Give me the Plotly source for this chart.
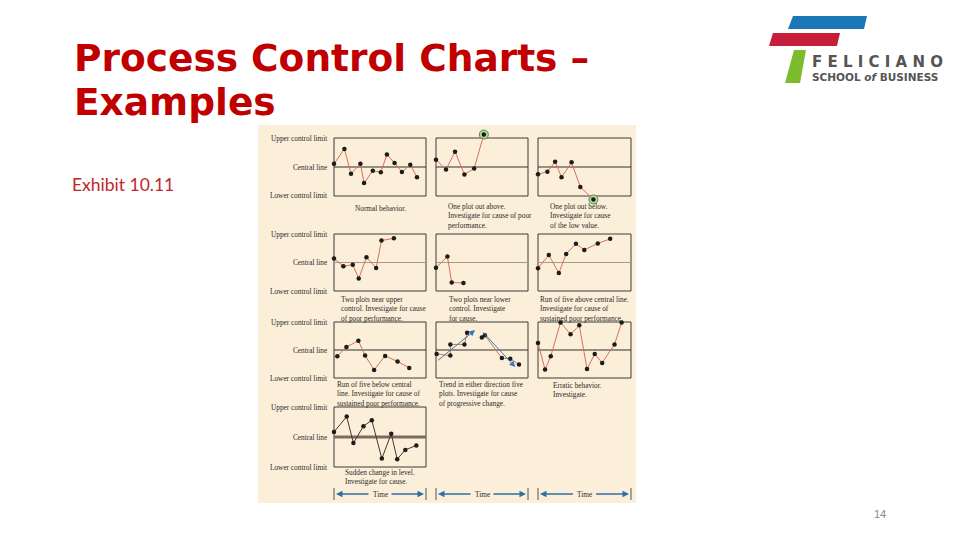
import plotly.graph_objects as go

W, H = 960, 540

# ---------------- data (x = position in time window, y relative: UCL=1, CL=0, LCL=-1)
normal_x = [0, 0.113, 0.185, 0.287, 0.327, 0.422, 0.509, 0.575, 0.658, 0.738, 0.829, 0.902]
normal_y = [0.11, 0.62, -0.23, 0.11, -0.55, -0.13, -0.18, 0.43, 0.14, -0.17, 0.08, -0.35]
above_x = [0, 0.109, 0.207, 0.309, 0.415, 0.52]
above_y = [0.25, -0.09, 0.53, -0.26, -0.05, 1.12]
below_x = [0, 0.101, 0.184, 0.253, 0.361, 0.455, 0.596]
below_y = [-0.25, -0.16, 0.18, -0.35, 0.16, -0.69, -1.12]
nearupper_x = [0, 0.102, 0.204, 0.269, 0.353, 0.458, 0.516, 0.651]
nearupper_y = [0.14, -0.13, -0.08, -0.56, 0.18, -0.19, 0.77, 0.85]
nearlower_x = [0, 0.124, 0.171, 0.298]
nearlower_y = [-0.18, 0.21, -0.70, -0.72]
runabove_x = [0, 0.116, 0.224, 0.303, 0.408, 0.498, 0.643, 0.776]
runabove_y = [-0.20, 0.26, -0.37, 0.30, 0.66, 0.44, 0.67, 0.83]
runbelow_x = [0.036, 0.135, 0.265, 0.338, 0.436, 0.556, 0.691, 0.818]
runbelow_y = [-0.22, 0.11, 0.33, -0.20, -0.71, -0.21, -0.41, -0.64]
trendup_x = [0.007, 0.156, 0.156, 0.309, 0.338]
trendup_y = [-0.14, -0.20, 0.20, 0.20, 0.62]
trenddown_x = [0.498, 0.531, 0.716, 0.807, 0.902]
trenddown_y = [0.45, 0.53, -0.29, -0.31, -0.52]
trend_arrows = [((0.007, -0.41), (0.425, 0.71)), ((0.498, 0.68), (0.862, -0.61))]
erratic_x = [0, 0.076, 0.137, 0.242, 0.350, 0.444, 0.527, 0.610, 0.690, 0.823, 0.899]
erratic_y = [0.25, -0.70, -0.22, 0.98, 0.56, 0.88, -0.68, -0.14, -0.46, 0.20, 0.98]
sudden_x = [0, 0.138, 0.211, 0.320, 0.411, 0.520, 0.622, 0.687, 0.775, 0.895]
sudden_y = [0.17, 0.68, -0.20, 0.36, 0.56, -0.72, 0.11, -0.74, -0.43, -0.28]

row_labels = ["Upper control limit", "Central line", "Lower control limit"]
captions = [
    "Normal behavior.",
    "One plot out above.<br>Investigate for cause of poor<br>performance.",
    "One plot out below.<br>Investigate for cause<br>of the low value.",
    "Two plots near upper<br>control. Investigate for cause<br>of poor performance.",
    "Two plots near lower<br>control. Investigate<br>for cause.",
    "Run of five above central line.<br>Investigate for cause of<br>sustained poor performance.",
    "Run of five below central<br>line. Investigate for cause of<br>sustained poor performance.",
    "Trend in either direction five<br>plots. Investigate for cause<br>of progressive change.",
    "Erratic behavior.<br>Investigate.",
    "Sudden change in level.<br>Investigate for cause.",
]
time_label = "Time"

# ---------------- layout geometry (pixels)
cols = [(334, 426), (436, 528), (538, 631)]
rows = [(138, 196), (234, 291), (322, 378), (407, 467)]
XPAD, YPAD = 0.06, 0.35  # extra axis room around the control box (in data units)


def px(x):
    return x / W


def py(y):
    return 1 - y / H


RED_LINE = "#d7705c"
DOT = "#1c1c1c"
BOX = "#3a3a3a"
SERIF = "Liberation Serif"

panels = [
    (0, 0, [(normal_x, normal_y)], RED_LINE, ("#2e2e2e", 1.2), None),
    (0, 1, [(above_x, above_y)], RED_LINE, ("#2e2e2e", 1.2), -1),
    (0, 2, [(below_x, below_y)], RED_LINE, ("#2e2e2e", 1.2), -1),
    (1, 0, [(nearupper_x, nearupper_y)], RED_LINE, ("#a89886", 1.0), None),
    (1, 1, [(nearlower_x, nearlower_y)], RED_LINE, ("#a89886", 1.0), None),
    (1, 2, [(runabove_x, runabove_y)], RED_LINE, ("#a89886", 1.0), None),
    (2, 0, [(runbelow_x, runbelow_y)], RED_LINE, ("#2e2e2e", 1.2), None),
    (2, 1, [(trendup_x, trendup_y), (trenddown_x, trenddown_y)], RED_LINE, ("#2e2e2e", 1.2), None),
    (2, 2, [(erratic_x, erratic_y)], RED_LINE, ("#2e2e2e", 1.2), None),
    (3, 0, [(sudden_x, sudden_y)], "#4a3530", ("#7d6a5e", 3), None),
]
caption_pos = [
    ("center", 380, 208), ("left", 446, 216), ("left", 548, 216),
    ("left", 339, 309), ("left", 447, 309), ("left", 538, 309),
    ("left", 335, 394), ("left", 437, 394), ("left", 551, 390),
    ("left", 343, 477),
]

fig = go.Figure()
layout = dict(
    width=W, height=H, margin=dict(l=0, r=0, t=0, b=0),
    paper_bgcolor="white", plot_bgcolor="rgba(0,0,0,0)",
    showlegend=False,
)
shapes = []
annotations = []

shapes.append(dict(type="rect", xref="paper", yref="paper", layer="below",
                   x0=px(258), x1=px(636), y0=py(503), y1=py(125),
                   fillcolor="#fcefd9", line=dict(width=0)))

for i, (r, c, series, lc, (clc, clw), flag) in enumerate(panels):
    k = i + 1
    xa = "xaxis" if k == 1 else f"xaxis{k}"
    ya = "yaxis" if k == 1 else f"yaxis{k}"
    xid = "x" if k == 1 else f"x{k}"
    yid = "y" if k == 1 else f"y{k}"
    x0, x1 = cols[c]
    y0, y1 = rows[r]
    wpx = x1 - x0
    hpx = y1 - y0
    dx0 = x0 - XPAD * wpx
    dx1 = x1 + XPAD * wpx
    dy0 = y0 - YPAD / 2 * hpx
    dy1 = y1 + YPAD / 2 * hpx
    common = dict(showgrid=False, zeroline=False, showticklabels=False, ticks="",
                  showline=False, fixedrange=True)
    layout[xa] = dict(domain=[px(dx0), px(dx1)], range=[-XPAD, 1 + XPAD], anchor=yid, **common)
    layout[ya] = dict(domain=[py(dy1), py(dy0)], range=[-1 - YPAD, 1 + YPAD], anchor=xid, **common)
    shapes.append(dict(type="rect", xref=xid, yref=yid, x0=0, x1=1, y0=-1, y1=1,
                       line=dict(color=BOX, width=1), fillcolor="rgba(0,0,0,0)", layer="below"))
    shapes.append(dict(type="line", xref=xid, yref=yid, x0=0, x1=1, y0=0, y1=0,
                       line=dict(color=clc, width=clw), layer="below"))
    for sx, sy in series:
        if flag is not None:
            fig.add_trace(go.Scatter(x=[sx[flag]], y=[sy[flag]], xaxis=xid, yaxis=yid,
                                     mode="markers", hoverinfo="skip",
                                     marker=dict(size=9, color="#b9dca4",
                                                 line=dict(color="#4a8a4a", width=1))))
        fig.add_trace(go.Scatter(x=sx, y=sy, xaxis=xid, yaxis=yid, mode="lines+markers",
                                 line=dict(color=lc, width=1),
                                 marker=dict(size=4.5, color=DOT)))
    if i == 7:
        for (tx, ty), (hx, hy) in trend_arrows:
            annotations.append(dict(x=hx, y=hy, ax=tx, ay=ty, xref=xid, yref=yid,
                                    axref=xid, ayref=yid, text="", showarrow=True,
                                    arrowhead=2, arrowsize=1.2, arrowwidth=1,
                                    arrowcolor="#2f7cc0"))
    al, cx, cy = caption_pos[i]
    annotations.append(dict(x=px(cx), y=py(cy), xref="paper", yref="paper",
                            text=captions[i], showarrow=False, align=al,
                            xanchor="center" if al == "center" else "left", yanchor="middle",
                            font=dict(family=SERIF, size=7.3, color="#2a2a2a")))

for (y0, y1) in rows:
    for lab, yy in zip(row_labels, [y0, (y0 + y1) / 2, y1]):
        annotations.append(dict(x=px(329), y=py(yy), xref="paper", yref="paper",
                                text=lab, showarrow=False, xanchor="right", yanchor="middle",
                                font=dict(family=SERIF, size=7.3, color="#2a2a2a")))

for (x0, x1) in cols:
    ty = 494
    mid = (x0 + x1) / 2
    for xb in (x0, x1):
        shapes.append(dict(type="line", xref="paper", yref="paper", x0=px(xb), x1=px(xb),
                           y0=py(488), y1=py(500), line=dict(color="#555", width=1)))
    annotations.append(dict(x=px(mid), y=py(ty), xref="paper", yref="paper", text=time_label,
                            showarrow=False, xanchor="center", yanchor="middle",
                            font=dict(family=SERIF, size=7.3, color="#2a2a2a")))
    annotations.append(dict(x=px(x0 + 2), y=py(ty), xref="paper", yref="paper", text="",
                            showarrow=True, ax=(mid - 10) - (x0 + 2), ay=0, arrowhead=2,
                            arrowsize=1, arrowwidth=1.3, arrowcolor="#2f6fa8"))
    annotations.append(dict(x=px(x1 - 2), y=py(ty), xref="paper", yref="paper", text="",
                            showarrow=True, ax=(mid + 10) - (x1 - 2), ay=0, arrowhead=2,
                            arrowsize=1, arrowwidth=1.3, arrowcolor="#2f6fa8"))

TITLE_FONT = dict(family="DejaVu Sans", size=37.5, color="#c00000")
annotations.append(dict(x=px(72), y=py(58), xref="paper", yref="paper",
                        text="<b>Process Control Charts –</b>", showarrow=False,
                        xanchor="left", yanchor="middle", font=TITLE_FONT))
annotations.append(dict(x=px(72), y=py(102), xref="paper", yref="paper",
                        text="<b>Examples</b>", showarrow=False,
                        xanchor="left", yanchor="middle", font=TITLE_FONT))
annotations.append(dict(x=px(70), y=py(184), xref="paper", yref="paper",
                        text="Exhibit 10.11", showarrow=False, xanchor="left", yanchor="middle",
                        font=dict(family="Lato", size=17.5, color="#c0262c")))
annotations.append(dict(x=px(880), y=py(514), xref="paper", yref="paper",
                        text="14", showarrow=False, xanchor="center", yanchor="middle",
                        font=dict(family="Liberation Sans", size=11, color="#8a8a8a")))


def poly(pts, color):
    d = "M " + " L ".join(f"{px(x):.5f},{py(y):.5f}" for x, y in pts) + " Z"
    return dict(type="path", xref="paper", yref="paper", path=d, fillcolor=color,
                line=dict(width=0))


shapes.append(poly([(793, 16), (867, 16), (864, 29), (788, 29)], "#1b78b8"))
shapes.append(poly([(773, 33), (840, 33), (837, 46), (769, 46)], "#c41e3a"))
shapes.append(poly([(794, 50), (806, 50), (800, 83), (785, 83)], "#7cbb2c"))
annotations.append(dict(x=px(810), y=py(62), xref="paper", yref="paper",
                        text="<b>F E L I C I A N O</b>", showarrow=False, xanchor="left",
                        yanchor="middle",
                        font=dict(family="DejaVu Sans", size=15, color="#555555")))
annotations.append(dict(x=px(810), y=py(77), xref="paper", yref="paper",
                        text="<b>SCHOOL <i>of</i> BUSINESS</b>", showarrow=False, xanchor="left",
                        yanchor="middle",
                        font=dict(family="DejaVu Sans", size=10.5, color="#555555")))

layout["shapes"] = shapes
layout["annotations"] = annotations
fig.update_layout(**layout)
fig.write_html("out.html", config={"displayModeBar": False},
               post_script="document.body.style.margin='0px';")
